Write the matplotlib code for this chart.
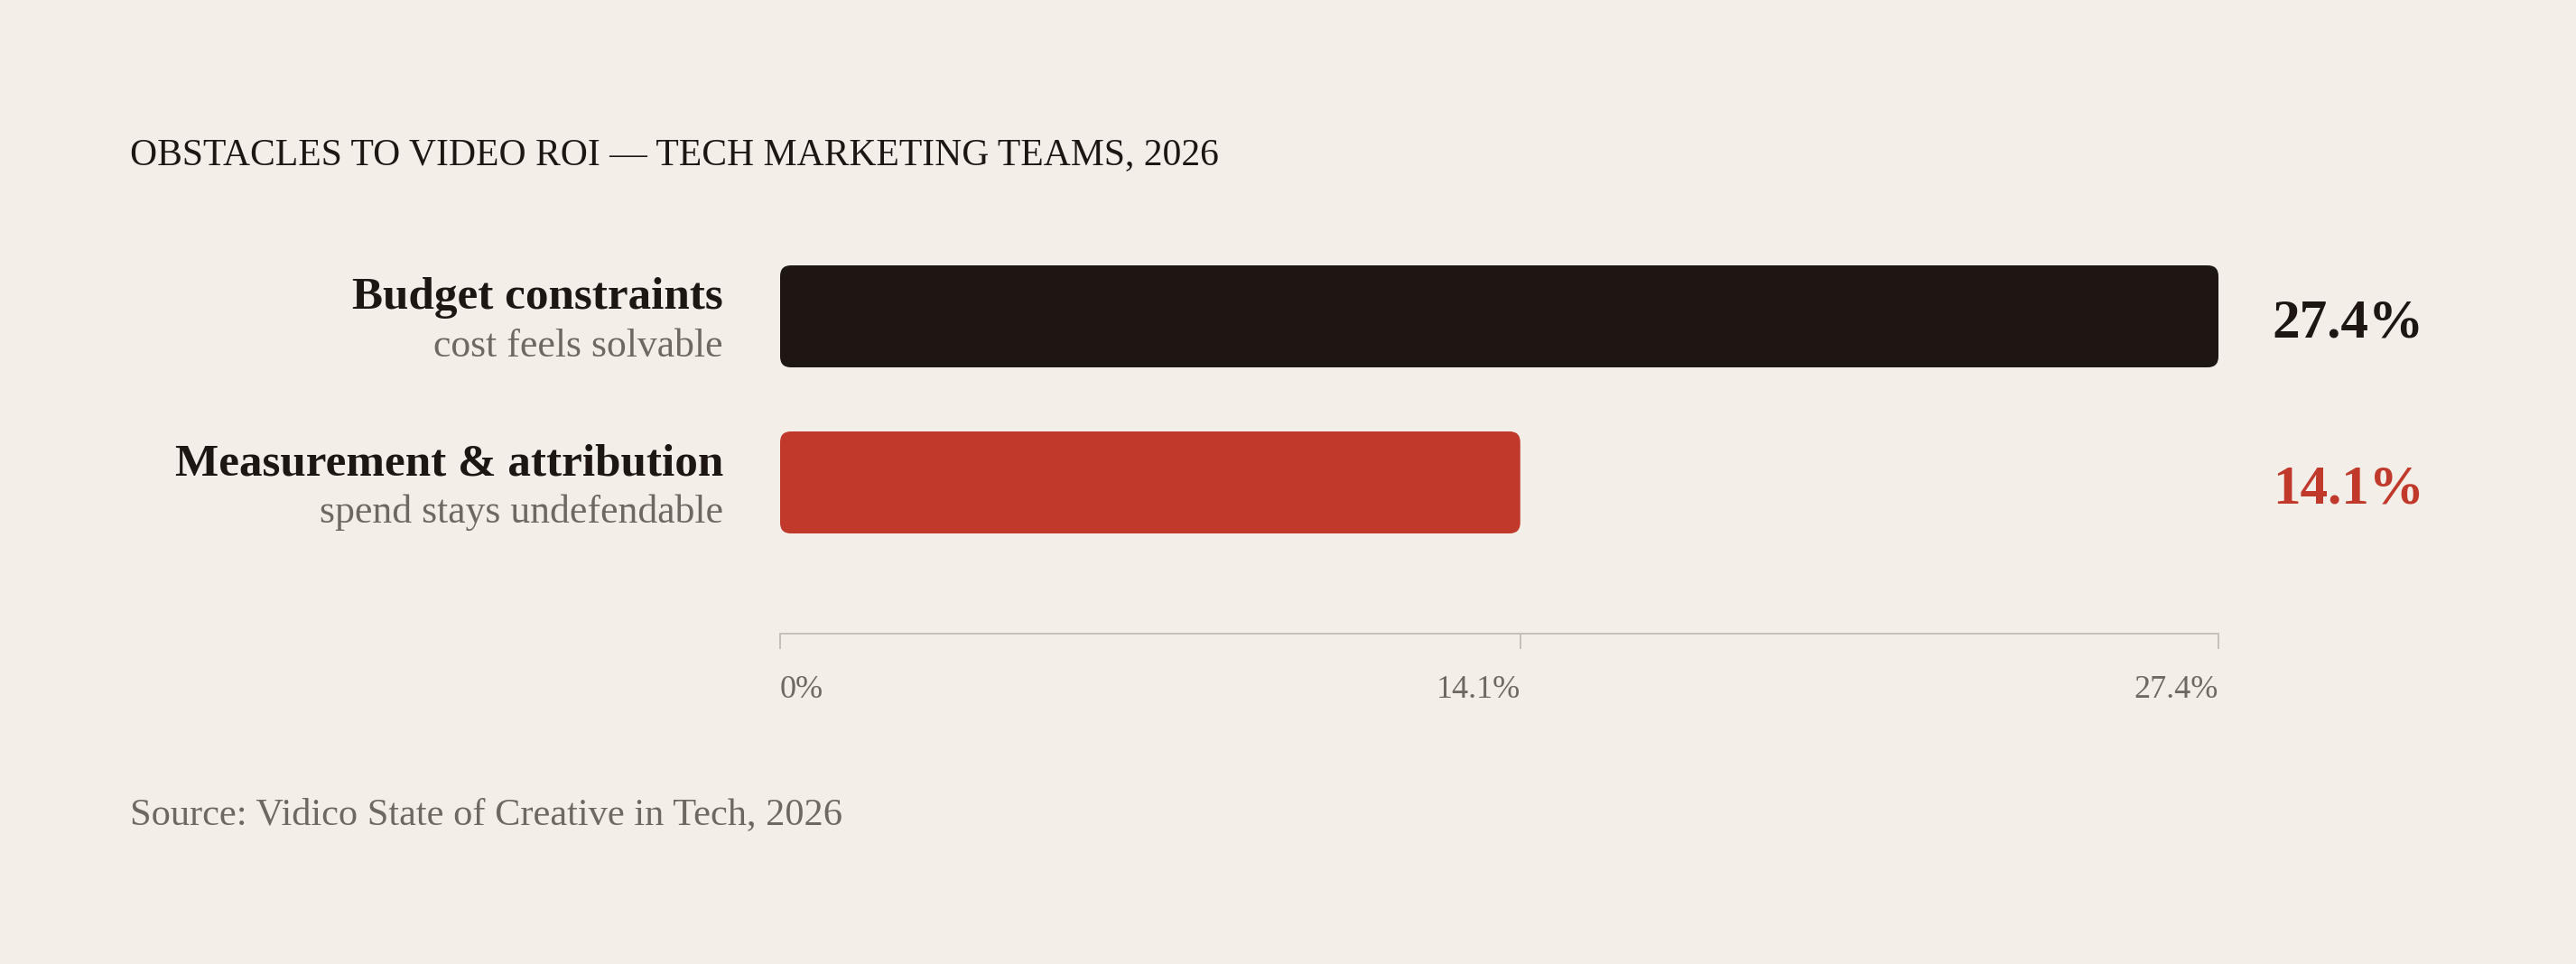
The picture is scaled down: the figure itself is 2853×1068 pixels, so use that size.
import matplotlib
matplotlib.use("Agg")
import matplotlib.pyplot as plt
from matplotlib.patches import FancyBboxPatch

categories = ["Budget constraints", "Measurement & attribution"]
subtitles = ["cost feels solvable", "spend stays undefendable"]
values = [27.4, 14.1]
value_labels = ["27.4%", "14.1%"]
tick_values = [0, 14.1, 27.4]
tick_labels = ["0%", "14.1%", "27.4%"]
title = "OBSTACLES TO VIDEO ROI — TECH MARKETING TEAMS, 2026"
source = "Source: Vidico State of Creative in Tech, 2026"

BG = "#f3eee8"
DARK = "#1e1612"
RED = "#c0392b"
GRAY = "#6e6862"
AXC = "#c4bfb8"
bar_colors = [DARK, RED]

plt.rcParams['font.family'] = ['Liberation Serif', 'DejaVu Serif']

W, H = 2853, 1068
fig = plt.figure(figsize=(W / 100, H / 100), dpi=100, facecolor=BG)

ax_l, ax_r = 864, 2457
ax_t, ax_b = 260, 702
ax = fig.add_axes([ax_l / W, 1 - ax_b / H, (ax_r - ax_l) / W, (ax_b - ax_t) / H])
ax.set_facecolor(BG)

xmax = max(values)
ax.set_xlim(0, xmax)
spacing_px = 184.0
top = -90.5 / spacing_px
ax.set_ylim(top + (ax_b - ax_t) / spacing_px, top)

bar_h = 113 / spacing_px
# rounding correction for non-equal aspect
x_per_px = xmax / (ax_r - ax_l)
y_per_px = 1 / spacing_px
radius_px = 12
for i, (v, c) in enumerate(zip(values, bar_colors)):
    p = FancyBboxPatch((0, i - bar_h / 2), v, bar_h,
                       boxstyle=f"round,pad=0,rounding_size={radius_px * x_per_px}",
                       mutation_aspect=y_per_px / x_per_px,
                       facecolor=c, edgecolor='none')
    ax.add_patch(p)

for i, (cat, sub) in enumerate(zip(categories, subtitles)):
    ax.annotate(cat, xy=(0, i), xycoords='data', xytext=(-45.4, 6.1),
                textcoords='offset points', ha='right', va='baseline',
                fontsize=36.8, fontweight='bold', color=DARK)
    ax.annotate(sub, xy=(0, i), xycoords='data', xytext=(-45.4, -32.0),
                textcoords='offset points', ha='right', va='baseline',
                fontsize=31.5, color=GRAY)
    ax.annotate(value_labels[i], xy=(xmax, i), xycoords='data', xytext=(43.0, -16.9),
                textcoords='offset points', ha='left', va='baseline',
                fontsize=44, fontweight='bold', color=bar_colors[i])

for s in ['top', 'right', 'left']:
    ax.spines[s].set_visible(False)
ax.spines['bottom'].set_color(AXC)
ax.spines['bottom'].set_linewidth(1.4)
ax.set_yticks([])
ax.set_xticks(tick_values)
ax.set_xticklabels(tick_labels)
ax.tick_params(axis='x', direction='out', length=12.2, width=1.4, color=AXC,
               labelsize=26, labelcolor=GRAY, pad=21)
labs = ax.get_xticklabels()
labs[0].set_ha('left')
for lab in labs[1:]:
    lab.set_ha('right')

fig.text(144 / W, 1 - 182 / H, title, ha='left', va='baseline',
         fontsize=30, color=DARK)
fig.text(144 / W, 1 - 913 / H, source, ha='left', va='baseline',
         fontsize=30.5, color=GRAY)

fig.savefig("out.png", dpi=100, facecolor=BG)
